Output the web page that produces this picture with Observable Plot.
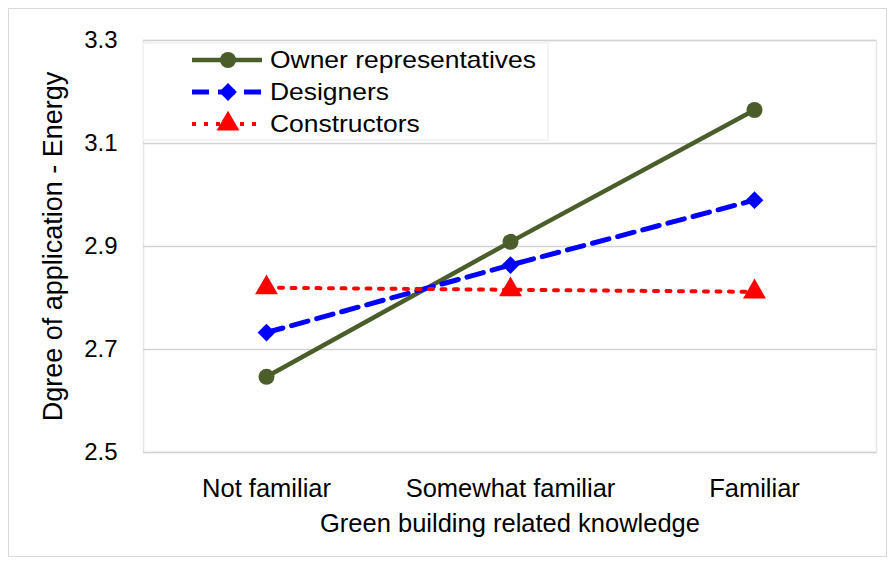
<!DOCTYPE html>
<html><head><meta charset="utf-8">
<script src="https://cdn.jsdelivr.net/npm/d3@7"></script>
<script src="https://cdn.jsdelivr.net/npm/@observablehq/plot@0.6"></script>
<style>
body{margin:0;background:#fff;}
#wrap{position:relative;width:892px;height:567px;font-family:"Liberation Sans",Arial,sans-serif;}
#border{position:absolute;left:8px;top:8px;width:879px;height:549px;border:1.5px solid #d9d9d9;box-sizing:border-box;pointer-events:none}
#legend{position:absolute;left:0;top:0;pointer-events:none}
</style></head><body>
<div id="wrap"><div id="chart"></div><svg id="legend" width="892" height="567"></svg><div id="border"></div></div>
<script>
const categories = ["Not familiar", "Somewhat familiar", "Familiar"];
const seriesNames = ["Owner representatives", "Designers", "Constructors"];
const ownerValues = [2.647, 2.909, 3.165];
const designerValues = [2.733, 2.864, 2.990];
const constructorValues = [2.820, 2.816, 2.812];
const yTicks = [2.5, 2.7, 2.9, 3.1, 3.3];

const styles = [
  {color: "#4a5d2b", width: 4.5, dash: null, symbol: "circle", r: 8},
  {color: "#0000ff", width: 5, dash: "17 9", symbol: "diamond2", r: 8},
  {color: "#ff0000", width: 4, dash: "4 8.5", symbol: "triangle", r: 8.5}
];
const valueSets = [ownerValues, designerValues, constructorValues];
const rowsFor = (vals, name) => categories.map((c, i) => ({cat: c, value: vals[i], series: name}));

const marks = [
  Plot.frame({stroke: "#e6e6e6", strokeWidth: 1.5}),
  Plot.gridY(yTicks, {stroke: "#d3d3d3", strokeOpacity: 1, strokeWidth: 1.5}),
  Plot.axisY(yTicks, {tickSize: 0, tickPadding: 26, fontSize: 24, tickFormat: d3.format(".1f"),
    label: "Dgree of application - Energy", labelAnchor: "center", labelArrow: "none", labelOffset: 101}),
  Plot.axisX({tickSize: 0, tickPadding: 26, fontSize: 25.5,
    label: "Green building related knowledge", labelAnchor: "center", labelArrow: "none", labelOffset: 79})
];
valueSets.forEach((vals, k) => {
  const s = styles[k];
  const rows = rowsFor(vals, seriesNames[k]);
  marks.push(Plot.line(rows, {x: "cat", y: "value", stroke: s.color, strokeWidth: s.width, strokeDasharray: s.dash}));
  marks.push(Plot.dot(rows, {x: "cat", y: "value", fill: s.color, stroke: "none", symbol: s.symbol, r: s.r}));
});

const chart = Plot.plot({
  width: 892, height: 567,
  marginLeft: 143, marginRight: 16, marginTop: 40, marginBottom: 115,
  style: {fontFamily: "'Liberation Sans', Arial, sans-serif", color: "#000", background: "transparent"},
  x: {type: "point", domain: categories, padding: 0.5, label: null},
  y: {domain: [2.5, 3.3], label: null},
  marks
});
document.getElementById("chart").appendChild(chart);
// y-axis title slightly larger than tick labels
d3.select(chart).selectAll("text").filter(function() { return this.textContent === "Dgree of application - Energy"; })
  .attr("font-size", 27);

// legend
const lg = d3.select("#legend");
lg.append("rect").attr("x", 143).attr("y", 43).attr("width", 405).attr("height", 97)
  .attr("fill", "#fff").attr("stroke", "#efefef").attr("stroke-width", 1.5);
seriesNames.forEach((name, k) => {
  const s = styles[k];
  const y = 60 + k * 32;
  lg.append("line").attr("x1", 192).attr("x2", 262).attr("y1", y).attr("y2", y)
    .attr("stroke", s.color).attr("stroke-width", s.width)
    .attr("stroke-dasharray", k === 1 ? "17 9" : (k === 2 ? "4 8" : null));
  lg.append("path").attr("transform", `translate(228,${y})`)
    .attr("d", d3.symbol(k === 0 ? d3.symbolCircle : (k === 1 ? d3.symbolDiamond2 : d3.symbolTriangle), Math.PI * s.r * s.r)())
    .attr("fill", s.color);
  lg.append("text").attr("transform", `translate(270,${y + 8}) scale(1.15,1)`)
    .attr("font-size", 23).attr("font-family", "'Liberation Sans', Arial, sans-serif")
    .attr("fill", "#000").text(name);
});
</script>
</body></html>
